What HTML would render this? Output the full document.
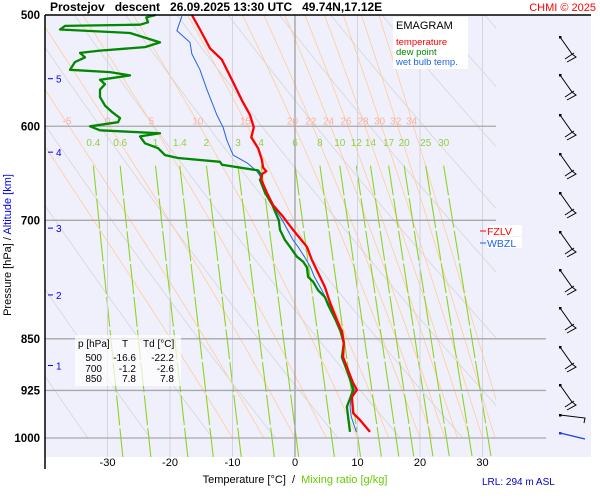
<!DOCTYPE html>
<html><head><meta charset="utf-8"><style>
body{margin:0;background:#fff;width:600px;height:500px;overflow:hidden;font-family:"Liberation Sans",sans-serif}
svg{display:block}
</style></head><body>
<svg id="chart" width="600" height="500" font-family="Liberation Sans, sans-serif">
<rect x="45" y="15" width="546" height="442" fill="#f0f0fc"/>
<g id="grid"></g>
<g id="series"></g>
<g id="barbs"></g>
<line x1="45" y1="15" x2="591" y2="15" stroke="#000" stroke-width="1.5"/>
<line x1="45" y1="15" x2="45" y2="469" stroke="#000" stroke-width="1.5"/>
<text x="50" y="11" font-size="12" font-weight="bold" xml:space="preserve">Prostejov   descent   26.09.2025 13:30 UTC   49.74N,17.12E</text>
<text x="596" y="11" font-size="11" fill="#f00" text-anchor="end">CHMI © 2025</text>
<g>
<rect x="393" y="17" width="75" height="52" fill="#fff"/>
<text x="396" y="29" font-size="11">EMAGRAM</text>
<text x="396" y="45" font-size="9.5" fill="#f00">temperature</text>
<text x="396" y="55" font-size="9.5" fill="#080">dew point</text>
<text x="396" y="65" font-size="9.5" fill="#1e64e6">wet bulb temp.</text>
</g>
<g>
<rect x="487" y="225" width="35" height="11" fill="#fff"/>
<rect x="487" y="237" width="35" height="11" fill="#fff"/>
<line x1="480" y1="231" x2="486" y2="231" stroke="#f00"/>
<text x="487" y="235" font-size="10.5" fill="#f00">FZLV</text>
<line x1="480" y1="243" x2="486" y2="243" stroke="#1e64e6"/>
<text x="487" y="247" font-size="10.5" fill="#1e64e6">WBZL</text>
</g>
<g font-size="10">
<rect x="75" y="335" width="106" height="51" fill="#fff" opacity="0.7"/>
<text x="78" y="347">p [hPa]</text><text x="122" y="347">T</text><text x="143" y="347">Td [°C]</text>
<text x="102" y="361" text-anchor="end">500</text><text x="136" y="361" text-anchor="end">-16.6</text><text x="174" y="361" text-anchor="end">-22.2</text>
<text x="102" y="372" text-anchor="end">700</text><text x="136" y="372" text-anchor="end">-1.2</text><text x="174" y="372" text-anchor="end">-2.6</text>
<text x="102" y="382" text-anchor="end">850</text><text x="136" y="382" text-anchor="end">7.8</text><text x="174" y="382" text-anchor="end">7.8</text>
</g>
<text transform="translate(11,245) rotate(-90)" font-size="11" text-anchor="middle">Pressure [hPa]  /  <tspan fill="#00f">Altitude [km]</tspan></text>
<text x="295" y="483" font-size="11" text-anchor="middle" xml:space="preserve">Temperature [°C]  /  <tspan fill="#6c0">Mixing ratio [g/kg]</tspan></text>
<text x="482" y="485" font-size="10" fill="#00c">LRL: 294 m ASL</text>
</svg>
<script>
const pressureTicks=[500,600,700,850,925,1000];
const tempTicks=[-30,-20,-10,0,10,20,30];
const altTicks=[5,4,3,2,1];
const altPressures=[555,626,709,791,888];
const thetaWLabels=[-5,0,5,10,15,20,22,24,26,28,30,32,34];
const mixRatios=[0.4,0.6,1,1.4,2,3,4,6,8,10,12,14,17,20,25,30];
const tempP=[500,512,528,538,556,575,589,601,611,622,634,642,646,649,655,669,683,696,711,721,731,747,763,781,801,824,840,856,876,895,914,924,935,960,971,990];
const tempT=[-16.5,-15.2,-13.6,-11.7,-10.1,-8.5,-7.2,-6.6,-7.0,-5.9,-5.3,-5.1,-4.6,-5.3,-5.4,-4.5,-3.5,-1.9,-0.3,0.8,1.9,2.7,3.7,4.8,5.6,6.7,7.5,7.8,7.7,8.5,9.3,9.9,9.1,9.3,10.4,12.0];
const dewP=[500,502,506,508,509,512,515,523,527,530,532,536,540,547,549,552,556,560,565,572,580,586,592,596,600,604,607,610,617,622,629,632,636,639,645,651,655,669,683,700,711,723,731,743,749,756,768,774,785,794,804,824,840,856,876,895,914,924,935,950,966,990];
const dewT=[-22.3,-23.8,-23.5,-24.8,-36.8,-37.6,-26.4,-21.6,-24.0,-31.2,-34.4,-33.6,-35.2,-36.0,-29.6,-26.4,-31.2,-30.4,-31.2,-31.2,-30.4,-29.3,-28.0,-28.3,-32.8,-31.2,-21.6,-24.8,-24.0,-21.9,-20.8,-18.7,-12.0,-11.7,-5.9,-5.3,-5.6,-4.8,-3.6,-2.6,-2.4,-1.6,-0.8,0.3,1.3,1.9,2.1,2.9,3.7,4.8,5.3,6.5,7.3,7.8,7.5,8.3,9.0,9.3,8.9,8.3,8.5,8.8];
const wbP=[501,513,523,533,547,565,589,601,614,629,637,646,651,669,683,700,711,723,731,743,756,768,785,801,824,840,856,876,895,914,924,935,950,966,990];
const wbT=[-18.1,-18.9,-16.8,-16.5,-15.2,-14.1,-12.5,-11.5,-10.9,-9.9,-7.7,-6.1,-5.6,-4.7,-3.6,-2.0,-1.2,-0.3,0.5,1.5,2.5,3.1,4.3,5.3,6.6,7.4,7.8,7.6,8.4,9.1,9.5,9.0,8.8,9.0,9.8];

const NS='http://www.w3.org/2000/svg';
const X=t=>295+t*6.25;
const Y=p=>15+423*Math.log(p/500)/Math.log(2);
function mk(tag,attrs,parent){const e=document.createElementNS(NS,tag);for(const k in attrs)e.setAttribute(k,attrs[k]);parent.appendChild(e);return e;}
const svg=document.getElementById('chart');
const grid=document.getElementById('grid');
const series=document.getElementById('series');
const barbs=document.getElementById('barbs');
const clip=mk('clipPath',{id:'pc'},mk('defs',{},svg));
mk('rect',{x:45,y:15,width:451,height:442},clip);
const cg=mk('g',{'clip-path':'url(#pc)'},grid);

tempTicks.forEach(t=>{
  const l=mk('line',{x1:X(t),y1:15,x2:X(t),y2:457,stroke:t===0?'#999':'#d4d4dc','stroke-width':t===0?1.2:1},grid);
  
  
  const tx=mk('text',{x:X(t),y:466,'font-size':11,'text-anchor':'middle'},svg);
  tx.textContent=t;
  
  
});
for(let th=230;th<=420;th+=10){
  let d='';for(let p=500;p<=1000;p+=10){const T=th*Math.pow(p/1000,0.286)-273.15;d+=(d?'L':'M')+X(T).toFixed(1)+','+Y(p).toFixed(1);}
  const e=mk('path',{d:d,fill:'none',stroke:'#d8d8d8','stroke-width':0.9},cg);
  
  
}
function es(T){return 6.112*Math.exp(17.67*T/(T+243.5));}
function moist(tw){
  let T=tw+273.15,pts=[];
  for(let p=1000;p>=500;p-=2){
    pts.push([p,T-273.15]);
    const e=es(T-273.15),rs=0.622*e/(p-e),Rd=287,L=2.5e6,cp=1004;
    const dTdp=(Rd*T+L*rs)/(p*(cp+L*L*rs*0.622/(Rd*T*T)));
    T-=dTdp*2;
  }
  return pts;
}
[-10,-5,0,5,10,15,20,22,24,26,28,30,32,34].forEach(tw=>{
  const pts=moist(tw);let d='';pts.forEach(q=>{d+=(d?'L':'M')+X(q[1]).toFixed(1)+','+Y(q[0]).toFixed(1);});
  const e=mk('path',{d:d,fill:'none',stroke:'#ffcc99','stroke-width':0.8},cg);
  
  
});
thetaWLabels.forEach(tw=>{
  const pts=moist(tw);const q=pts.find(a=>a[0]<=600);
  const t=mk('text',{x:X(q[1])-2,y:Y(600)-2,'font-size':10,fill:'#f8b0a0','text-anchor':'middle'},grid);
  t.textContent=tw;
  
  
});
function tdFromW(w,p){const e=w*p/(622+w);const a=Math.log(e/6.112);return 243.5*a/(17.67-a);}
mixRatios.forEach(w=>{
  const e=mk('line',{x1:X(tdFromW(w,640)),y1:Y(640),x2:X(tdFromW(w,1000)),y2:Y(1000)+20,stroke:'#8cd420','stroke-width':1.1,'stroke-dasharray':'30,3'},cg);
  
  
  const t=mk('text',{x:X(tdFromW(w,640)),y:146,'font-size':10,fill:'#90d040','text-anchor':'middle'},grid);
  t.textContent=w;
  
  
});
pressureTicks.forEach(p=>{
  if(p>500){const l=mk('line',{x1:45,y1:Y(p),x2:p>=850?546:496,y2:Y(p),stroke:'#a8a8a8','stroke-width':1.3},grid);
  
  }
  const t=mk('text',{x:40,y:Y(p)+4,'font-size':11.5,'font-weight':'bold','text-anchor':'end'},svg);
  t.textContent=p;
  
  
});
altTicks.forEach((a,i)=>{
  const y=Y(altPressures[i]);
  mk('line',{x1:48,y1:y,x2:53,y2:y,stroke:'#00f'},svg);
  const t=mk('text',{x:56,y:y+4,'font-size':10,fill:'#00f'},svg);
  t.textContent=a;
  
  
});
function line(P,T,color,w,name){
  let d='';P.forEach((p,i)=>{d+=(i?'L':'M')+X(T[i]).toFixed(1)+','+Y(p).toFixed(1);});
  const e=mk('path',{d:d,fill:'none',stroke:color,'stroke-width':w,'stroke-linejoin':'round'},series);
  
  
}
line(wbP,wbT,'#1e64e6',1,'wet-bulb-line');
line(dewP,dewT,'#080',2.3,'dew-point-line');
line(tempP,tempT,'#f00',2.3,'temperature-line');
[37,75,115,154,193,232,270,308,347,385].forEach(y=>{
  const g=mk('g',{stroke:'#000','stroke-width':1,fill:'none'},barbs);
  
  
  mk('rect',{x:559,y:y-1,width:2.5,height:2.5,fill:'#000',stroke:'none'},g);
  mk('path',{d:`M560,${y} L572,${y+17} L576,${y+20} L567,${y+25} M574,${y+16} L565,${y+22}`},g);
});
const b1=mk('path',{d:'M560,415 L585,418 L584,423',stroke:'#000',fill:'none'},barbs);


mk('rect',{x:559,y:414,width:2.5,height:2.5,fill:'#000'},barbs);
const b2=mk('path',{d:'M560,433 L585,439',stroke:'#1e3ce6',fill:'none','stroke-width':1.3},barbs);


mk('rect',{x:559,y:432,width:2.5,height:2.5,fill:'#1e3ce6'},barbs);
</script>
</body></html>
